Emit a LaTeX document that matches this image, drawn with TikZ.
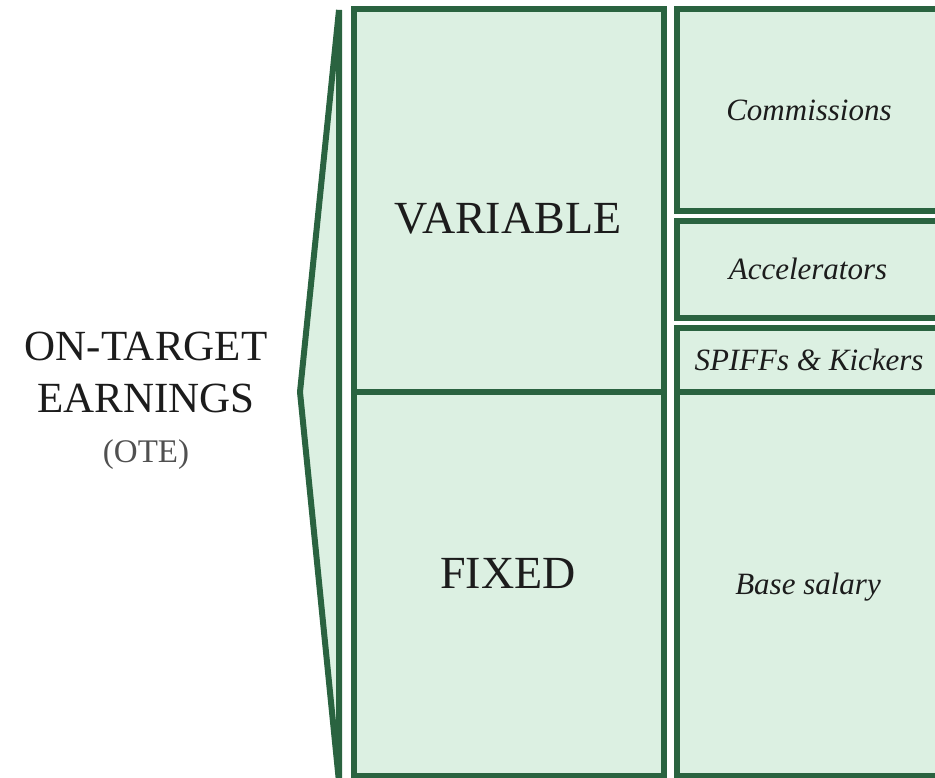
\documentclass[tikz,border=0pt]{standalone}
\usepackage{fontspec}
\setmainfont{Liberation Serif}
\definecolor{otegreen}{RGB}{42,99,64}
\definecolor{otefill}{RGB}{220,240,226}
\definecolor{otetext}{RGB}{28,28,28}
\definecolor{otegray}{RGB}{80,80,80}
\tikzset{
  box/.style={draw=otegreen, fill=otefill, line width=6pt},
  bigword/.style={anchor=base, text=otetext, font=\fontsize{46}{48}\selectfont},
  sideword/.style={anchor=base, text=otetext, font=\fontsize{43}{45}\selectfont},
  partword/.style={anchor=base, text=otetext, font=\fontsize{31}{33}\selectfont\itshape},
}

\begin{document}
\begin{tikzpicture}[x=1pt, y=-1pt]
    \useasboundingbox (0,0) rectangle (935,777);
    \draw [box, line join=bevel] (339,10) -- (300,392) -- (339,782) -- cycle;
    \draw [box] (354,9) rectangle (664,392);
    \draw [box] (354,392) rectangle (664,776);
    \draw [box] (677,9) rectangle (938,211);
    \draw [box] (677,220.5) rectangle (938,317.5);
    \draw [box] (677,327.5) rectangle (938,392);
    \draw [box] (677,392) rectangle (938,776);
    \node [sideword] (ontarget) at (146,360) {ON-TARGET};
    \node [sideword] (earnings) at (146,412) {EARNINGS};
    \node [anchor=base, text=otegray, font=\fontsize{33}{35}\selectfont] (ote) at (146,462) {(OTE)};
    \node [bigword] (variable) at (508,233) {VARIABLE};
    \node [bigword] (fixed) at (508,588) {FIXED};
    \node [partword] (commissions) at (809,120) {Commissions};
    \node [partword] (accelerators) at (808,279) {Accelerators};
    \node [partword] (spiffs) at (809,370) {SPIFFs \& Kickers};
    \node [partword] (base) at (808,594) {Base salary};
\end{tikzpicture}
\end{document}
